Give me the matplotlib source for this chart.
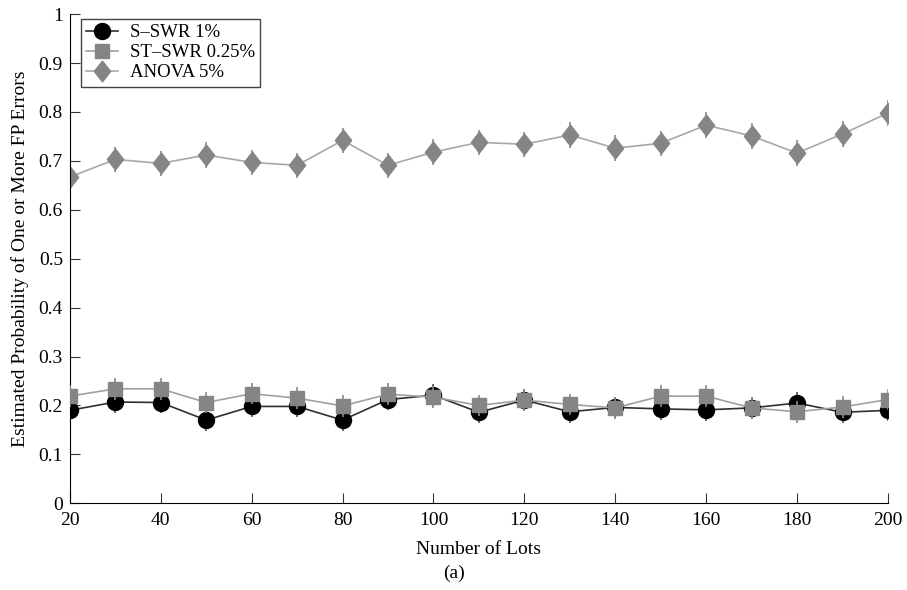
import matplotlib.pyplot as plt
from matplotlib.lines import Line2D
import numpy as np

plt.rcParams['font.family'] = ['Liberation Serif', 'DejaVu Serif']

# Number of lots
lots = [20, 30, 40, 50, 60, 70, 80, 90, 100, 110, 120, 130, 140, 150, 160, 170, 180, 190, 200]

# Estimated probability of one or more FP errors
s_swr = [0.190, 0.207, 0.206, 0.170, 0.198, 0.198, 0.170, 0.212, 0.221, 0.186,
         0.211, 0.187, 0.196, 0.193, 0.191, 0.195, 0.205, 0.186, 0.190]
st_swr = [0.219, 0.234, 0.234, 0.206, 0.224, 0.215, 0.199, 0.223, 0.217, 0.200,
          0.211, 0.202, 0.195, 0.219, 0.219, 0.195, 0.187, 0.197, 0.212]
anova = [0.667, 0.703, 0.695, 0.712, 0.697, 0.691, 0.742, 0.691, 0.718, 0.738,
         0.734, 0.753, 0.726, 0.736, 0.773, 0.751, 0.716, 0.755, 0.798]

# half-width of the error bars
err_low = 0.022
err_high = 0.026

fig = plt.figure(figsize=(9.07, 5.90), dpi=100)
ax = fig.add_axes([0.077, 0.147, 0.902, 0.829])

diamond = [(0, 1), (0.78, 0), (0, -1), (-0.78, 0), (0, 1)]

styles = {
    'S\u2013SWR 1%': dict(color='#303030', marker='o', ms=11.5, mfc='black', mec='black'),
    'ST\u2013SWR 0.25%': dict(color='#a0a0a0', marker='s', ms=9.5, mfc='#858585', mec='#858585'),
    'ANOVA 5%': dict(color='#a8a8a8', marker=diamond, ms=15, mfc='#858585', mec='#858585'),
}

ax.errorbar(lots, anova, yerr=err_high, ecolor='#8a8a8a', lw=1.2, elinewidth=1.2,
            zorder=2, **styles['ANOVA 5%'])
ax.errorbar(lots, st_swr, yerr=err_low, ecolor='#8a8a8a', lw=1.2, elinewidth=1.2,
            zorder=3, **styles['ST\u2013SWR 0.25%'])
ax.errorbar(lots, s_swr, yerr=err_low, ecolor='#505050', lw=1.2, elinewidth=1.2,
            zorder=2.5, **styles['S\u2013SWR 1%'])

ax.set_xlim(20, 200)
ax.set_ylim(0, 1)
ax.set_xticks(np.arange(20, 201, 20))
ax.set_yticks(np.arange(0, 1.01, 0.1))
ax.set_yticklabels(['0', '0.1', '0.2', '0.3', '0.4', '0.5', '0.6', '0.7', '0.8', '0.9', '1'])
ax.spines['top'].set_visible(False)
ax.spines['right'].set_visible(False)
ax.tick_params(direction='in', length=7, labelsize=14, color='#333333')
ax.tick_params(axis='x', pad=6)
ax.tick_params(axis='y', pad=5)
ax.set_xlabel('Number of Lots', fontsize=14, labelpad=9)
ax.set_ylabel('Estimated Probability of One or More FP Errors', fontsize=14, labelpad=7)

# plain line + marker handles (no error bar in the legend)
handles = [Line2D([], [], lw=1.2, **st) for st in styles.values()]
leg = ax.legend(handles, list(styles.keys()),
                loc='upper left', bbox_to_anchor=(0.002, 1.01), fontsize=13.5,
                fancybox=False, edgecolor='#444444', framealpha=1,
                handlelength=1.7, handletextpad=0.6, borderpad=0.3, labelspacing=0.15)
leg.get_frame().set_linewidth(1.0)

fig.text(0.5, 0.02, '(a)', ha='center', fontsize=14)

fig.savefig('out.png', dpi=100)
